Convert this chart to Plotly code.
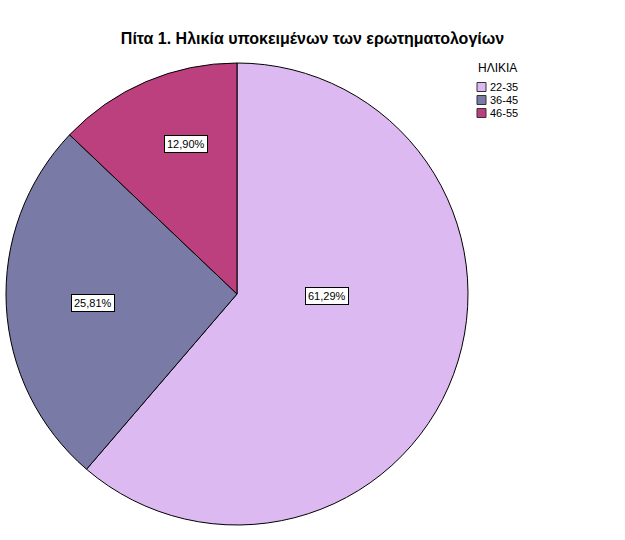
import math
import plotly.graph_objects as go

categories = ["22-35", "36-45", "46-55"]
percent_values = [61.29, 25.81, 12.90]
percent_labels = ["61,29%", "25,81%", "12,90%"]
legend_title = "ΗΛΙΚΙΑ"
chart_title = "Πίτα 1. Ηλικία υποκειμένων των ερωτηματολογίων"

colors = ["#DDB9F2", "#7A7AA7", "#BC3F7E"]
label_radius = [0.39, 0.624, 0.685]
label_angle_shift = [-19.0, -0.5, 4.4]

W, H = 625, 540
dom_x = [6 / W, 468 / W]
dom_y = [1 - 525 / H, 1 - 63 / H]

fig = go.Figure(go.Pie(
    labels=categories, values=percent_values, sort=False,
    direction="clockwise", rotation=0,
    marker=dict(colors=colors, line=dict(color="#000000", width=1)),
    textinfo="none", hoverinfo="label+percent",
    domain=dict(x=dom_x, y=dom_y),
    showlegend=False,
))

# label boxes positioned from slice mid-angles
cx = (dom_x[0] + dom_x[1]) / 2 * W
cy = (1 - (dom_y[0] + dom_y[1]) / 2) * H
r = (dom_x[1] - dom_x[0]) * W / 2
total = sum(percent_values)
cum = 0
for v, t, f, da in zip(percent_values, percent_labels, label_radius, label_angle_shift):
    mid = (cum + v / 2) / total * 2 * math.pi + math.radians(da)
    cum += v
    px = cx + math.sin(mid) * r * f
    py = cy - math.cos(mid) * r * f
    fig.add_annotation(x=px / W, y=1 - py / H, xref="paper", yref="paper",
                       xanchor="center", yanchor="middle",
                       text=t, showarrow=False, bgcolor="white",
                       bordercolor="black", borderwidth=1, borderpad=2,
                       font=dict(family="Liberation Sans, Arial", size=11, color="black"))

# compact legend (SPSS style)
leg_x, leg_title_y, leg_y0, leg_dy, sq = 476, 68, 87, 13, 9
fig.add_annotation(x=leg_x / W, y=1 - leg_title_y / H, xref="paper", yref="paper",
                   xanchor="left", yanchor="middle", showarrow=False,
                   text=legend_title, font=dict(size=12, color="black"))
for i, (cat, col) in enumerate(zip(categories, colors)):
    yc = leg_y0 + i * leg_dy
    fig.add_shape(type="rect", xref="paper", yref="paper",
                  x0=(leg_x + 1) / W, x1=(leg_x + 1 + sq) / W,
                  y0=1 - (yc + sq / 2) / H, y1=1 - (yc - sq / 2) / H,
                  fillcolor=col, line=dict(color="#333333", width=1))
    fig.add_annotation(x=(leg_x + sq + 3) / W, y=1 - yc / H, xref="paper", yref="paper",
                       xanchor="left", yanchor="middle", showarrow=False,
                       text=cat, font=dict(size=11, color="black"))

fig.update_layout(
    width=W, height=H,
    margin=dict(l=0, r=0, t=0, b=0),
    paper_bgcolor="white",
    font=dict(family="Liberation Sans, Arial", color="black"),
    title=dict(text="<b>" + chart_title + "</b>",
               x=0.5, xanchor="center", y=1 - 38 / H, yanchor="middle",
               font=dict(size=16, color="black")),
    showlegend=False,
)

fig.write_html("out.html", config={"displayModeBar": False},
               post_script="document.body.style.margin='0';")
